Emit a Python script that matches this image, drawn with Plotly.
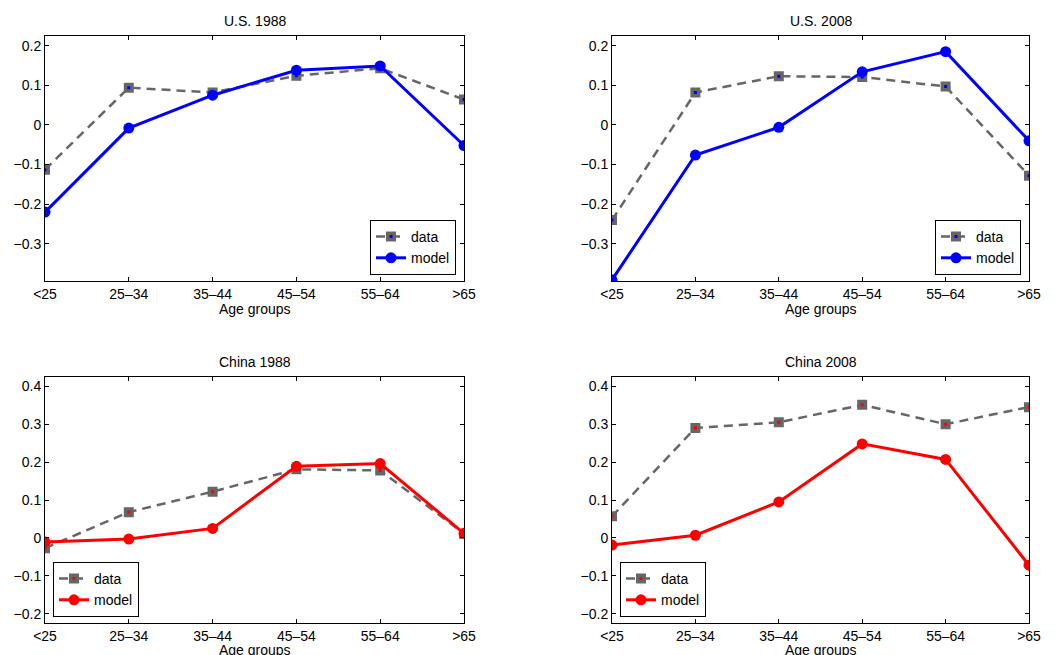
import plotly.graph_objects as go

categories = ["<25", "25–34", "35–44", "45–54", "55–64", ">65"]
x_pos = [1, 2, 3, 4, 5, 6]

us1988_data = [-0.113, 0.094, 0.082, 0.124, 0.143, 0.064]
us1988_model = [-0.220, -0.008, 0.075, 0.138, 0.149, -0.052]
us2008_data = [-0.240, 0.082, 0.123, 0.121, 0.097, -0.128]
us2008_model = [-0.391, -0.076, -0.006, 0.134, 0.185, -0.040]
cn1988_data = [-0.027, 0.068, 0.122, 0.181, 0.178, 0.011]
cn1988_model = [-0.011, -0.003, 0.025, 0.189, 0.196, 0.012]
cn2008_data = [0.057, 0.290, 0.305, 0.351, 0.300, 0.345]
cn2008_model = [-0.019, 0.007, 0.095, 0.248, 0.207, -0.072]

titles = ["U.S. 1988", "U.S. 2008", "China 1988", "China 2008"]
us_yticks = [-0.3, -0.2, -0.1, 0, 0.1, 0.2]
cn_yticks = [-0.2, -0.1, 0, 0.1, 0.2, 0.3, 0.4]

OFF = 8  # page body margin
W, H = 1063 - OFF, 655 - OFF
FONT = "Liberation Sans, Arial, Helvetica, sans-serif"
FS = 14
GRAY = "#666666"

def px_x(p):
    return (p - OFF) / W

def px_y(p):
    return 1 - (p - OFF) / H

panels = [
    dict(data=us1988_data, model=us1988_model, color="#0000ff", xd=(45, 464), yd=(36, 281),
         yr=(-0.394, 0.2245), yt=us_yticks, title=titles[0], ty=21, xt=309,
         leg=dict(x=px_x(456), y=px_y(275), xanchor="right", yanchor="bottom")),
    dict(data=us2008_data, model=us2008_model, color="#0000ff", xd=(612, 1029), yd=(36, 281),
         yr=(-0.394, 0.2245), yt=us_yticks, title=titles[1], ty=21, xt=309,
         leg=dict(x=px_x(1021), y=px_y(275), xanchor="right", yanchor="bottom")),
    dict(data=cn1988_data, model=cn1988_model, color="#ff0000", xd=(45, 464), yd=(377, 623),
         yr=(-0.2245, 0.4245), yt=cn_yticks, title=titles[2], ty=362, xt=650,
         leg=dict(x=px_x(53), y=px_y(617), xanchor="left", yanchor="bottom")),
    dict(data=cn2008_data, model=cn2008_model, color="#ff0000", xd=(612, 1029), yd=(377, 623),
         yr=(-0.2245, 0.4245), yt=cn_yticks, title=titles[3], ty=362, xt=650,
         leg=dict(x=px_x(620), y=px_y(617), xanchor="left", yanchor="bottom")),
]

fig = go.Figure()
annotations = []
layout = {}

def ytext(v):
    if abs(v) < 1e-9:
        return "0"
    s = f"{abs(v):.1f}"
    return ("−" + s) if v < 0 else s

for i, p in enumerate(panels):
    n = "" if i == 0 else str(i + 1)
    xa, ya = "x" + n, "y" + n
    lg = "legend" + n
    fig.add_trace(go.Scatter(
        x=x_pos, y=p["data"], name="data", mode="lines+markers",
        xaxis=xa, yaxis=ya, legend=lg,
        line=dict(color=GRAY, width=2.5, dash="9px,6px"),
        marker=dict(symbol="square", size=6.5, color=p["color"],
                    line=dict(color=GRAY, width=3.5)),
    ))
    fig.add_trace(go.Scatter(
        x=x_pos, y=p["model"], name="model", mode="lines+markers",
        xaxis=xa, yaxis=ya, legend=lg,
        line=dict(color=p["color"], width=3),
        marker=dict(symbol="circle", size=11, color=p["color"]),
    ))
    axis_common = dict(showline=True, linecolor="black", linewidth=1, mirror="ticks",
                       ticks="inside", ticklen=4, tickcolor="black", showgrid=False,
                       zeroline=False, automargin=False,
                       tickfont=dict(family=FONT, size=FS, color="black"))
    layout["xaxis" + n] = dict(domain=[px_x(p["xd"][0]), px_x(p["xd"][1])], range=[1, 6],
                               tickvals=x_pos, ticktext=categories, anchor=ya, **axis_common)
    layout["yaxis" + n] = dict(domain=[px_y(p["yd"][1]), px_y(p["yd"][0])], range=list(p["yr"]),
                               tickvals=p["yt"], ticktext=[ytext(v) for v in p["yt"]],
                               anchor=xa, **axis_common)
    layout[lg] = dict(bgcolor="white", bordercolor="black", borderwidth=1,
                      font=dict(family=FONT, size=FS, color="black"),
                      tracegroupgap=0, itemwidth=30, **p["leg"])
    cx = (px_x(p["xd"][0]) + px_x(p["xd"][1])) / 2
    annotations.append(dict(text=p["title"], x=cx, y=px_y(p["ty"]), xref="paper", yref="paper",
                            showarrow=False, xanchor="center", yanchor="middle",
                            font=dict(family=FONT, size=FS, color="black")))
    annotations.append(dict(text="Age groups", x=cx, y=px_y(p["xt"]), xref="paper", yref="paper",
                            showarrow=False, xanchor="center", yanchor="middle",
                            font=dict(family=FONT, size=FS, color="black")))

fig.update_layout(width=W, height=H, margin=dict(l=0, r=0, t=0, b=0),
                  paper_bgcolor="white", plot_bgcolor="white",
                  annotations=annotations, **layout)

fig.write_html("out.html")
